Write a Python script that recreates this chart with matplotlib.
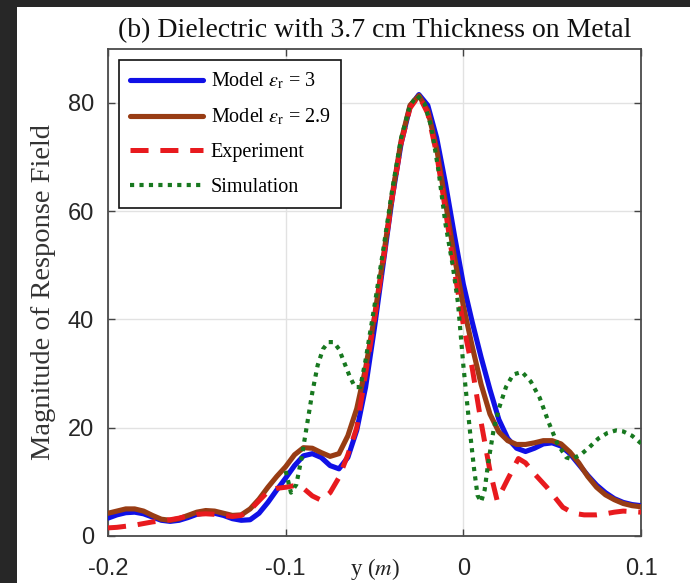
import matplotlib
matplotlib.use("Agg")
import matplotlib.pyplot as plt
from matplotlib.patches import Rectangle

# ---------------- data ----------------
model_x = [-0.200, -0.195, -0.190, -0.185, -0.180, -0.175, -0.170, -0.165, -0.160, -0.155,
           -0.150, -0.145, -0.140, -0.135, -0.130, -0.125, -0.120, -0.115, -0.110, -0.105,
           -0.100, -0.095, -0.090, -0.085, -0.080, -0.075, -0.070, -0.065, -0.060, -0.055,
           -0.050, -0.045, -0.040, -0.035, -0.030, -0.025, -0.020, -0.015, -0.010, -0.005,
           0.000, 0.005, 0.010, 0.015, 0.020, 0.025, 0.030, 0.035, 0.040, 0.045,
           0.050, 0.055, 0.060, 0.065, 0.070, 0.075, 0.080, 0.085, 0.090, 0.095, 0.100]

model_er3 = [3.3, 3.9, 4.3, 4.4, 4.1, 3.5, 2.9, 2.7, 2.9, 3.4,
             4.0, 4.3, 4.2, 3.8, 3.2, 2.9, 3.0, 4.2, 6.2, 8.5,
             10.7, 13.0, 14.8, 15.2, 14.5, 13.0, 12.4, 14.5, 19.5, 27.5,
             38.5, 50.5, 62.5, 72.5, 79.3, 81.5, 79.5, 73.5, 65.0, 55.5,
             46.5, 39.5, 33.0, 27.0, 21.5, 18.0, 16.2, 15.6, 16.2, 17.0,
             17.2, 16.6, 15.2, 13.2, 11.2, 9.4, 8.0, 6.9, 6.2, 5.8, 5.6]

model_er29 = [4.2, 4.6, 5.0, 5.0, 4.6, 3.8, 3.1, 2.9, 3.2, 3.8,
              4.4, 4.7, 4.6, 4.2, 3.8, 3.9, 5.0, 6.8, 9.0, 11.0,
              12.8, 15.0, 16.3, 16.2, 15.4, 14.7, 15.2, 18.5, 23.5, 31.0,
              40.5, 51.5, 63.0, 73.0, 79.5, 81.3, 78.5, 71.5, 61.5, 51.5,
              42.5, 35.0, 28.0, 22.5, 19.2, 17.6, 16.9, 16.9, 17.2, 17.6,
              17.6, 17.0, 15.5, 13.5, 11.0, 9.0, 7.6, 6.7, 6.0, 5.6, 5.4]

exp_x = [-0.200, -0.195, -0.190, -0.185, -0.180, -0.175, -0.170, -0.165, -0.160, -0.155,
         -0.150, -0.145, -0.140, -0.135, -0.130, -0.125, -0.120, -0.115, -0.110, -0.105,
         -0.100, -0.095, -0.090, -0.085, -0.080, -0.075, -0.070, -0.065, -0.060, -0.055,
         -0.050, -0.045, -0.040, -0.035, -0.030, -0.025, -0.020, -0.015, -0.010, -0.005,
         0.000, 0.005, 0.010, 0.015, 0.019, 0.025, 0.031, 0.035, 0.040, 0.047,
         0.056, 0.062, 0.068, 0.075, 0.080, 0.085, 0.090, 0.095, 0.100]

exp_y = [1.5, 1.6, 1.8, 2.0, 2.3, 2.6, 2.8, 3.0, 3.3, 3.7,
         4.0, 4.1, 4.0, 3.8, 3.6, 3.8, 4.8, 6.5, 8.2, 8.8,
         9.0, 9.3, 8.8, 7.4, 6.6, 8.0, 10.8, 15.0, 20.0, 30.0,
         40.0, 51.0, 62.5, 72.5, 79.0, 81.3, 78.0, 70.5, 60.0, 49.0,
         39.0, 31.0, 21.0, 12.0, 6.6, 10.5, 14.3, 13.5, 11.5, 9.0,
         5.3, 4.2, 3.9, 3.9, 4.1, 4.4, 4.6, 4.5, 4.4]

sim_x = [-0.100, -0.097, -0.094, -0.091, -0.088, -0.085, -0.082, -0.079, -0.076, -0.073,
         -0.070, -0.067, -0.064, -0.061, -0.058, -0.055, -0.050, -0.045, -0.040, -0.035,
         -0.030, -0.026, -0.022, -0.018, -0.014, -0.010, -0.006, -0.003, 0.000, 0.002,
         0.004, 0.006, 0.008, 0.010, 0.012, 0.014, 0.017, 0.020, 0.024, 0.028,
         0.033, 0.038, 0.043, 0.048, 0.053, 0.058, 0.061, 0.066, 0.071, 0.076,
         0.081, 0.086, 0.090, 0.095, 0.100]

sim_y = [12.0, 8.0, 9.5, 14.5, 20.5, 26.5, 31.5, 34.5, 35.8, 35.8,
         34.5, 32.0, 29.5, 27.5, 27.5, 32.5, 42.5, 53.0, 64.0, 73.5,
         79.5, 81.3, 80.0, 75.5, 67.5, 57.5, 50.0, 43.0, 31.5, 25.0,
         18.5, 12.5, 7.5, 6.3, 8.5, 13.5, 19.5, 23.5, 27.5, 29.8,
         30.3, 28.5, 25.5, 21.0, 17.0, 14.5, 14.2, 15.0, 16.4, 18.0,
         19.0, 19.5, 19.3, 18.5, 17.1]

x_ticks = [-0.2, -0.1, 0, 0.1]
x_ticklabels = ["-0.2", "-0.1", "0", "0.1"]
y_ticks = [0, 20, 40, 60, 80]
y_ticklabels = ["0", "20", "40", "60", "80"]

labels = [r"Model $\epsilon_{\mathrm{r}}$ = 3", r"Model $\epsilon_{\mathrm{r}}$ = 2.9",
          "Experiment", "Simulation"]
title = "(b) Dielectric with 3.7 cm Thickness on Metal"

# ---------------- style ----------------
plt.rcParams["lines.scale_dashes"] = False
plt.rcParams["mathtext.fontset"] = "stix"

W, H = 690, 583
fig = plt.figure(figsize=(W / 100, H / 100), dpi=100)
fig.patch.set_facecolor("white")

ax_l, ax_r, ax_t, ax_b = 108, 641, 48.5, 536
ax = fig.add_axes([ax_l / W, (H - ax_b) / H, (ax_r - ax_l) / W, (ax_b - ax_t) / H])

ax.plot(model_x, model_er3, color="#1010e6", lw=3.7, solid_capstyle="round",
        solid_joinstyle="round", label=labels[0], zorder=3)
ax.plot(model_x, model_er29, color="#983c14", lw=3.7, solid_capstyle="round",
        solid_joinstyle="round", label=labels[1], zorder=4)
ax.plot(exp_x, exp_y, color="#e81a1e", lw=3.6, dashes=(13, 8.5), label=labels[2], zorder=5)
ax.plot(sim_x, sim_y, color="#17781f", lw=3.0, dashes=(3, 3.8), label=labels[3], zorder=6)

ax.set_xlim(-0.2, 0.1)
ax.set_ylim(0, 90)
ax.set_xticks(x_ticks)
ax.set_xticklabels(x_ticklabels)
ax.set_yticks(y_ticks)
ax.set_yticklabels(y_ticklabels)

for lab in ax.get_xticklabels() + ax.get_yticklabels():
    lab.set_fontfamily("Liberation Sans")
    lab.set_fontsize(17)
    lab.set_color("#262626")
ax.tick_params(axis="both", direction="in", length=5, width=1, color="#444444",
               top=True, right=True)
ax.tick_params(axis="x", pad=16)
ax.tick_params(axis="y", pad=10)

ax.grid(True, color="#e2e2e2", lw=1.0)
ax.set_axisbelow(True)
for s in ax.spines.values():
    s.set_color("#4a4a4a")
    s.set_linewidth(1.3)

ax.set_title(title, fontfamily="Liberation Serif", fontsize=20, color="#111111", pad=8)
ax.set_ylabel("Magnitude of Response Field", fontfamily="Liberation Serif", fontsize=20.5,
              color="#333333")
ax.yaxis.set_label_coords(-0.098, 0.5)
ax.set_xlabel(r"y ($m$)", fontfamily="Liberation Serif", fontsize=16.5, color="#222222")
ax.xaxis.set_label_coords(0.5, -0.068)
ax.xaxis.label.set_verticalalignment("center")

leg = ax.legend(loc="upper left", bbox_to_anchor=(11 / 533, 1 - 11.5 / 487.5),
                borderaxespad=0, prop={"family": "Liberation Serif", "size": 14.5},
                handlelength=3.6, handletextpad=0.4, labelspacing=0.76,
                borderpad=0.55, fancybox=False, framealpha=1, edgecolor="#111111")
leg.get_frame().set_linewidth(1.2)

# dark screenshot border (left and top)
fig.add_artist(Rectangle((0, 0), 17 / W, 1, transform=fig.transFigure,
                         facecolor="#272727", edgecolor="none", zorder=10))
fig.add_artist(Rectangle((0, 1 - 7 / H), 1, 7 / H, transform=fig.transFigure,
                         facecolor="#272727", edgecolor="none", zorder=10))

fig.savefig("out.png", dpi=100)
